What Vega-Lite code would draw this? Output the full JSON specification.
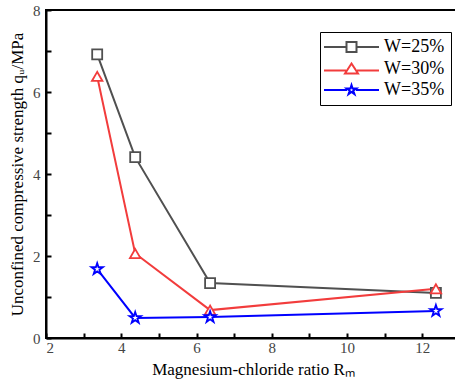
{
  "$schema": "https://vega.github.io/schema/vega-lite/v6.json",
  "width": 414,
  "height": 328,
  "autosize": {"type": "none"},
  "padding": {"left": 46, "top": 10, "right": 0, "bottom": 53},
  "background": "white",
  "config": {
    "view": {"stroke": "black", "strokeWidth": 2},
    "font": "Liberation Serif",
    "legend": {"labelFont": "Liberation Serif"},
    "axis": {
      "domainColor": "black",
      "domainWidth": 2,
      "tickColor": "black",
      "tickWidth": 2,
      "labelFont": "Liberation Serif",
      "labelFontSize": 15,
      "labelColor": "#444",
      "titleFont": "Liberation Serif",
      "titleFontSize": 17,
      "titleFontWeight": "normal",
      "titleColor": "black",
      "grid": false
    }
  },
  "data": {
    "values": [
      {"R": 3.36, "q": 6.92, "series": "W=25%"},
      {"R": 4.37, "q": 4.41, "series": "W=25%"},
      {"R": 6.36, "q": 1.34, "series": "W=25%"},
      {"R": 12.36, "q": 1.1, "series": "W=25%"},
      {"R": 3.36, "q": 6.38, "series": "W=30%"},
      {"R": 4.37, "q": 2.06, "series": "W=30%"},
      {"R": 6.36, "q": 0.68, "series": "W=30%"},
      {"R": 12.36, "q": 1.2, "series": "W=30%"},
      {"R": 3.36, "q": 1.68, "series": "W=35%"},
      {"R": 4.37, "q": 0.49, "series": "W=35%"},
      {"R": 6.36, "q": 0.51, "series": "W=35%"},
      {"R": 12.36, "q": 0.66, "series": "W=35%"}
    ]
  },
  "encoding": {
    "x": {
      "field": "R", "type": "quantitative",
      "scale": {"domain": [2, 13], "nice": false, "zero": false},
      "axis": {
        "title": "Magnesium-chloride ratio Rₘ",
        "values": [2,3,4,5,6,7,8,9,10,11,12,13],
        "labelExpr": "datum.value % 2 === 0 ? datum.label : ''",
        "tickSize": -5,
        "labelPadding": 7,
        "titlePadding": 6
      }
    },
    "y": {
      "field": "q", "type": "quantitative",
      "scale": {"domain": [0, 8], "nice": false},
      "axis": {
        "title": "Unconfined compressive strength qᵤ/MPa",
        "values": [0,1,2,3,4,5,6,7,8],
        "labelExpr": "datum.value % 2 === 0 ? datum.label : ''",
        "tickSize": -5,
        "labelPadding": 11,
        "titlePadding": 6
      }
    },
    "color": {
      "field": "series", "type": "nominal",
      "scale": {"domain": ["W=25%", "W=30%", "W=35%"], "range": ["#505050", "#f23c3c", "#0000ff"]},
      "legend": {
        "title": null,
        "orient": "none",
        "legendX": 274,
        "legendY": 22,
        "fillColor": "white",
        "strokeColor": "black",
        "padding": 6,
        "labelFont": "Liberation Serif",
        "labelFontSize": 18,
        "labelColor": "black",
        "labelOffset": 40,
        "rowPadding": 3,
        "symbolStrokeWidth": 2,
        "symbolOpacity": 1,
        "symbolFillColor": "white"
      }
    }
  },
  "layer": [
    {"mark": {"type": "line", "strokeWidth": 2}},
    {
      "transform": [{"filter": "datum.series === 'W=25%'"}],
      "mark": {"type": "point", "shape": "square", "filled": false, "fill": "white", "fillOpacity": 1, "strokeWidth": 1.8, "size": 100, "opacity": 1}
    },
    {
      "transform": [{"filter": "datum.series === 'W=30%'"}],
      "mark": {"type": "point", "shape": "triangle-up", "filled": false, "fill": "white", "fillOpacity": 1, "strokeWidth": 1.8, "size": 110, "opacity": 1}
    },
    {
      "transform": [{"filter": "datum.series === 'W=35%'"}],
      "mark": {"type": "point", "shape": "M0,-1.2L0.27,-0.37L1.14,-0.37L0.44,0.14L0.7,0.97L0,0.46L-0.7,0.97L-0.44,0.14L-1.14,-0.37L-0.27,-0.37Z", "filled": false, "fill": "white", "fillOpacity": 1, "strokeWidth": 1.8, "size": 100, "opacity": 1}
    },
    {
      "mark": {"type": "point", "filled": false, "fill": "white", "strokeWidth": 2, "size": 100, "opacity": 0},
      "encoding": {
        "shape": {
          "field": "series", "type": "nominal",
          "scale": {"domain": ["W=25%", "W=30%", "W=35%"], "range": ["M-2.2,0H2.3M4.3,0H8.8M2.3,-1H4.3V1H2.3Z", "M-2.2,0.3H2.2M4.4,0.3H8.8M3.3,-1.1L4.6,0.9H2Z", "M-2.2,0H2.4M4.2,0H8.8M3.3,-1L3.5245,-0.309L4.251,-0.309L3.663,0.118L3.888,0.809L3.3,0.382L2.712,0.809L2.937,0.118L2.349,-0.309L3.0755,-0.309Z"]},
          "legend": null
        }
      }
    }
  ]
}
